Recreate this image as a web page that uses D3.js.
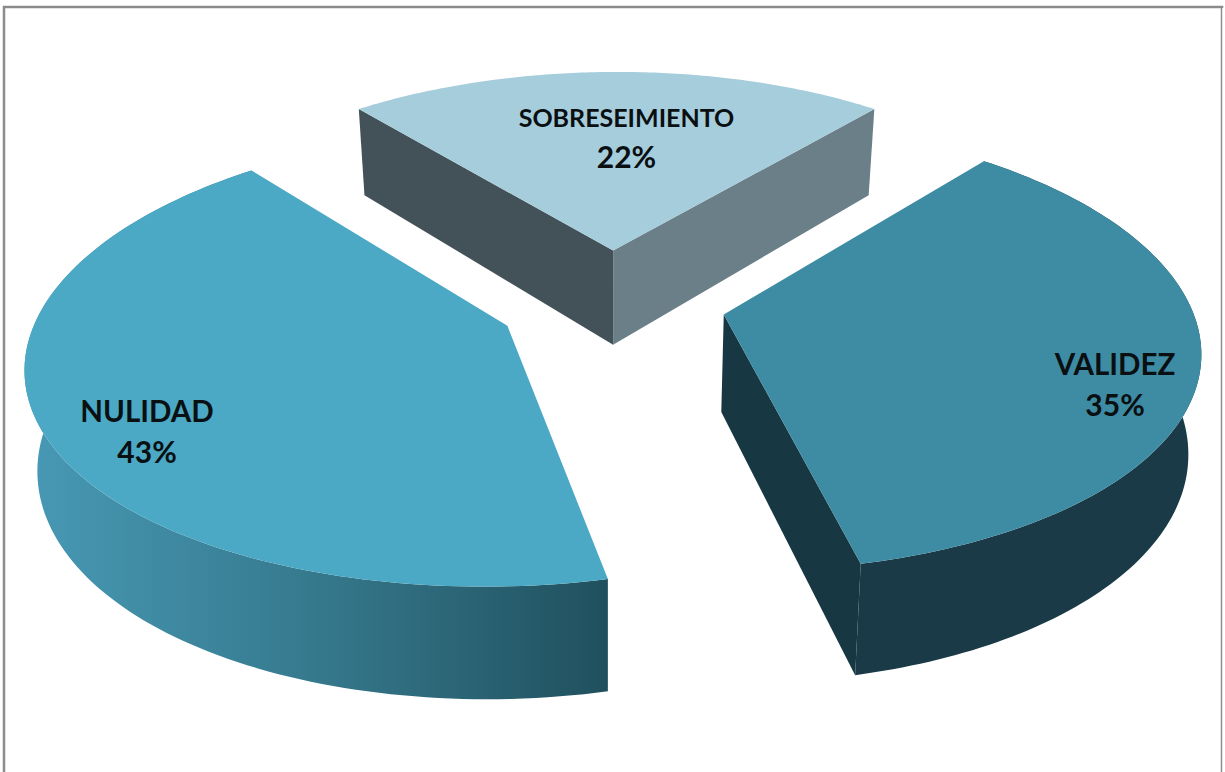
<!DOCTYPE html>
<html>
<head>
<meta charset="utf-8">
<script src="https://cdn.jsdelivr.net/npm/d3@7"></script>
<style>
    html, body { margin: 0; padding: 0; background: #fff; }
    svg { display: block; }
    text { font-family: Lato, "Open Sans", sans-serif; font-weight: 700; fill: #0a0f12; text-anchor: middle; }
</style>
</head>
<body>
<div class="pieChart"></div>
<script>
const WIDTH = 1225;
const HEIGHT = 772;

var categories = ['SOBRESEIMIENTO', 'VALIDEZ', 'NULIDAD'];
// shares, they round to the printed 22/35/43
var percents = [22, 35.45, 42.55];

var topColors = ['#a6cddc', '#3d8ca4', '#4ba9c5'];
var labelAngles = [2.5, 111.8, 236.6];
var labelRadii = [0.595, 0.845, 0.825];
var labelSizes = [25, 29.5, 29.5];

// projection of the tilted pie, values fitted by eye
const CENTER_X = 612;
const CENTER_Y = 302;
const RADIUS_X = 466;
const RADIUS_Y = 217;
const EXPLODE = 0.245;
const PERSPECTIVE_X = 0.15;
const PERSPECTIVE_Y = 0.14;
const PERSPECTIVE_Z = 0.125;
const SKEW = 4.5;
const THICKNESS = 97;
const SHRINK = 0.022;

function project(x, y, z) {
    var sx = 1 / (1 + PERSPECTIVE_X * y);
    var sy = 1 / (1 + PERSPECTIVE_Y * y);
    var sz = 1 / (1 + PERSPECTIVE_Z * y);
    return [
        CENTER_X + SKEW * y + RADIUS_X * x * sx * (1 - SHRINK * z),
        CENTER_Y - RADIUS_Y * y * sy + THICKNESS * z * sz
    ];
}

var pie = d3.pie().sort(null)
    .startAngle(-Math.PI * percents[0] / 100)
    .endAngle(2 * Math.PI - Math.PI * percents[0] / 100);
var slices = pie(percents);

function rim(slice, angle, z, r) {
    var mid = (slice.startAngle + slice.endAngle) / 2;
    var rad = r === undefined ? 1 : r;
    return project(
        EXPLODE * Math.sin(mid) + rad * Math.sin(angle),
        EXPLODE * Math.cos(mid) + rad * Math.cos(angle),
        z
    );
}

function arcPoints(slice, z) {
    var points = d3.range(0, 121).map(function (i) {
        return rim(slice, slice.startAngle + (slice.endAngle - slice.startAngle) * i / 120, z);
    });
    return points;
}

var line = d3.line();

var svg = d3.select('.pieChart').append('svg')
    .attr('width', WIDTH)
    .attr('height', HEIGHT);

var grad = svg.append('defs').append('linearGradient')
    .attr('id', 'nulidadWall')
    .attr('gradientUnits', 'userSpaceOnUse')
    .attr('x1', 36).attr('x2', 607).attr('y1', 0).attr('y2', 0);
grad.append('stop').attr('offset', 0).attr('stop-color', '#4798b4');
grad.append('stop').attr('offset', 0.5).attr('stop-color', '#35788c');
grad.append('stop').attr('offset', 1).attr('stop-color', '#20505e');

// frame of the chart area
svg.append('rect')
    .attr('x', 4).attr('y', 7)
    .attr('width', 1218).attr('height', 790)
    .attr('fill', 'none')
    .attr('stroke', '#8c8c8c')
    .attr('stroke-width', 2.5);
svg.append('rect')
    .attr('x', 1222).attr('y', 8).attr('width', 3).attr('height', 764)
    .attr('fill', '#fff');
svg.append('rect')
    .attr('x', 1222).attr('y', 8).attr('width', 1).attr('height', 764)
    .attr('fill', '#e6e6e6');

function radialWall(slice, angle) {
    return line([
        rim(slice, angle, 0, 0),
        rim(slice, angle, 0),
        rim(slice, angle, 1),
        rim(slice, angle, 1, 0)
    ]) + 'Z';
}

function drawSlice(slice, index) {
    var g = svg.append('g');
    var top = arcPoints(slice, 0);
    var bottom = arcPoints(slice, 1).reverse();

    if (index === 0) {
        g.append('path').attr('d', radialWall(slice, slice.startAngle)).attr('fill', '#435259');
        g.append('path').attr('d', radialWall(slice, slice.endAngle)).attr('fill', '#6a7f88');
    }
    if (index === 1) {
        g.append('path').attr('d', radialWall(slice, slice.endAngle)).attr('fill', '#173843');
        g.append('path').attr('d', line(top.concat(bottom)) + 'Z').attr('fill', '#193a46');
    }
    if (index === 2) {
        g.append('path').attr('d', line(top.concat(bottom)) + 'Z').attr('fill', 'url(#nulidadWall)');
    }

    var apex = rim(slice, 0, 0, 0);
    g.append('path')
        .attr('d', line([apex].concat(top)) + 'Z')
        .attr('fill', topColors[index]);

    var at = rim(slice, labelAngles[index] * Math.PI / 180, 0, labelRadii[index]);
    g.append('text')
        .attr('x', at[0]).attr('y', at[1] - 12)
        .attr('font-size', labelSizes[index])
        .text(categories[index]);
    g.append('text')
        .attr('x', at[0]).attr('y', at[1] + 29)
        .attr('font-size', 30)
        .text(d3.format('.0f')(percents[index]) + '%');
}

slices.forEach(drawSlice);
</script>
</body>
</html>
